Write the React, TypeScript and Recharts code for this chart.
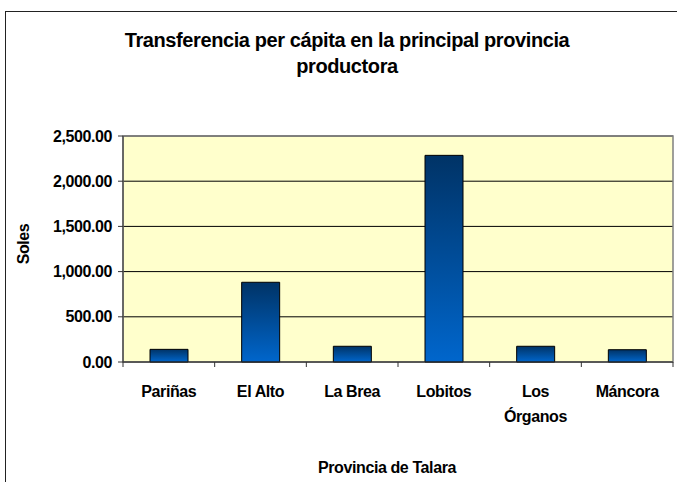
import React from "react";
import {
  BarChart,
  Bar,
  XAxis,
  YAxis,
  CartesianGrid,
  ReferenceArea,
} from "recharts";

const districts = ["Pariñas", "El Alto", "La Brea", "Lobitos", "Los Órganos", "Máncora"];
const perCapita = [140, 882, 174, 2286, 174, 136];
const yTicks = [0, 500, 1000, 1500, 2000, 2500];

const chartData = districts.map((name, i) => ({ name, value: perCapita[i] }));

const FONT = "'Liberation Sans', Arial, sans-serif";
const W = 677;
const H = 482;
const PLOT_LEFT = 123;
const PLOT_RIGHT = 673;
const BAND = (PLOT_RIGHT - PLOT_LEFT) / districts.length;

const fmt = (v: number) =>
  v.toLocaleString("en-US", { minimumFractionDigits: 2, maximumFractionDigits: 2 });

// category ticks sit between bars, like the original spreadsheet chart
function DistrictTick(props: any) {
  const { x, y, payload, index } = props;
  const label: string = payload.value;
  const lines = label.length > 9 ? label.split(" ") : [label];
  const last = index === districts.length - 1;
  return (
    <g>
      <line x1={x - BAND / 2} x2={x - BAND / 2} y1={y} y2={y + 5} stroke="#333" />
      {last && <line x1={x + BAND / 2} x2={x + BAND / 2} y1={y} y2={y + 5} stroke="#333" />}
      {lines.map((ln, i) => (
        <text
          key={ln}
          x={x}
          y={y + 35 + i * 25}
          textAnchor="middle"
          fontFamily={FONT}
          fontWeight="bold"
          fontSize={16}
          letterSpacing={-0.4}
          fill="#000"
        >
          {ln}
        </text>
      ))}
    </g>
  );
}

export default function App() {
  return (
    <div style={{ position: "absolute", left: 0, top: 0, width: W, height: H, overflow: "hidden", background: "#fff" }}>
      <div
        style={{
          position: "absolute",
          left: 5,
          top: 11,
          width: 720,
          height: 520,
          border: "1.5px solid #222",
        }}
      />
      <svg width={W} height={100} style={{ position: "absolute", left: 0, top: 0 }}>
        <text x={347} y={47} textAnchor="middle" fontFamily={FONT} fontWeight="bold" fontSize={20} letterSpacing={-0.4}>
          Transferencia per cápita en la principal provincia
        </text>
        <text x={347} y={73} textAnchor="middle" fontFamily={FONT} fontWeight="bold" fontSize={20} letterSpacing={-0.4}>
          productora
        </text>
      </svg>
      <svg width={W} height={H} style={{ position: "absolute", left: 0, top: 0, pointerEvents: "none" }}>
        <text
          transform="translate(29 244) rotate(-90)"
          textAnchor="middle"
          fontFamily={FONT}
          fontWeight="bold"
          fontSize={16}
          letterSpacing={-0.4}
        >
          Soles
        </text>
        <text x={387} y={473} textAnchor="middle" fontFamily={FONT} fontWeight="bold" fontSize={16} letterSpacing={-0.4}>
          Provincia de Talara
        </text>
      </svg>
      <div style={{ position: "absolute", left: 0, top: 0 }}>
        <BarChart
          width={W}
          height={H}
          data={chartData}
          margin={{ top: 136, right: W - PLOT_RIGHT, bottom: 90, left: 0 }}
          barSize={38}
        >
          <defs>
            <linearGradient id="barFill" x1="0" y1="0" x2="0" y2="1">
              <stop offset="0%" stopColor="#003366" />
              <stop offset="100%" stopColor="#0066CC" />
            </linearGradient>
          </defs>
          <CartesianGrid vertical={false} stroke="#000" fill="#FFFFCC" fillOpacity={1} />
          <ReferenceArea y1={0} y2={2500} fill="none" stroke="#808080" strokeWidth={1.5} />
          <XAxis
            dataKey="name"
            height={30}
            axisLine={{ stroke: "#333" }}
            tickLine={false}
            tickSize={0}
            tickMargin={0}
            interval={0}
            tick={<DistrictTick />}
          />
          <YAxis
            width={PLOT_LEFT}
            domain={[0, 2500]}
            ticks={yTicks}
            tickFormatter={fmt}
            axisLine={{ stroke: "#333" }}
            tickLine={{ stroke: "#333" }}
            tickSize={5}
            tickMargin={6}
            tick={{ fontFamily: FONT, fontWeight: "bold", fontSize: 16, letterSpacing: -0.4, fill: "#000" }}
          />
          <Bar dataKey="value" fill="url(#barFill)" stroke="#000" strokeWidth={1} isAnimationActive={false} />
        </BarChart>
      </div>
    </div>
  );
}
